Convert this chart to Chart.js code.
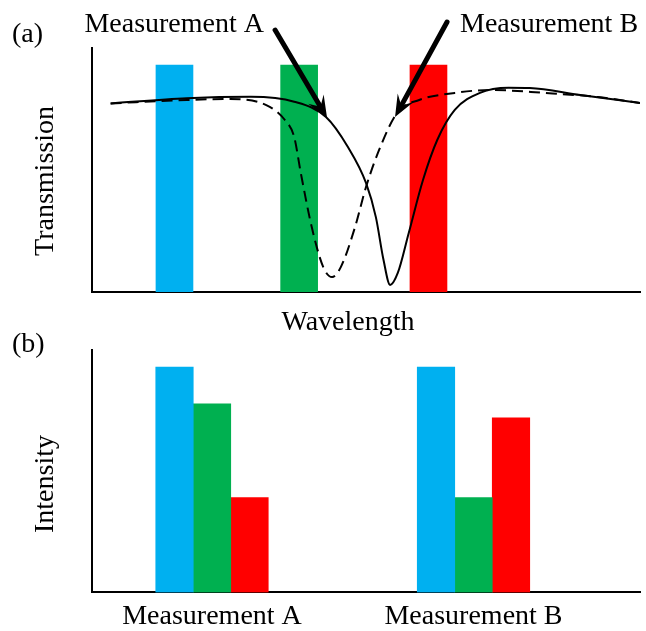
<!DOCTYPE html>
<html>
<head>
<meta charset="utf-8">
<script src="https://cdn.jsdelivr.net/npm/chart.js@4.4.1/dist/chart.umd.min.js"></script>
<style>
  html, body { margin: 0; padding: 0; background: #fff; overflow: hidden; }
  #wrap { position: relative; width: 646px; height: 631px; overflow: hidden; }
  canvas { position: absolute; left: 0; }
  #chartA { top: 0; }
  #chartB { top: 330px; }
</style>
</head>
<body>
<div id="wrap">
  <canvas id="chartA" width="646" height="345"></canvas>
  <canvas id="chartB" width="646" height="310"></canvas>
</div>
<script>
// (a) transmission spectra, wavelength in arbitrary units 0-100
const wavelengthSolid = [3.4, 17.3, 29.0, 36.9, 42.7, 46.7, 50.0, 51.8, 53.2, 54.4, 55.8, 57.8, 60.4, 63.0, 66.2, 70.8, 76.0, 79.9, 89.1, 100];
const transmissionSolid = [0.773, 0.794, 0.800, 0.780, 0.717, 0.594, 0.447, 0.307, 0.131, 0.029, 0.078, 0.242, 0.459, 0.623, 0.746, 0.816, 0.837, 0.836, 0.807, 0.775];
const wavelengthDashed = [3.4, 17.3, 25.2, 31.8, 35.2, 36.9, 38.1, 40.1, 42.2, 43.8, 45.4, 48.0, 50.0, 52.6, 55.8, 59.7, 66.2, 72.8, 82.5, 92.3, 100];
const transmissionDashed = [0.773, 0.787, 0.791, 0.766, 0.705, 0.635, 0.488, 0.266, 0.102, 0.061, 0.102, 0.266, 0.430, 0.594, 0.738, 0.787, 0.816, 0.828, 0.816, 0.799, 0.775];

// colour filter bands
const filterCenters = [15.05, 37.8, 61.4];
const filterHeights = [0.93, 0.93, 0.93];
const filterColors = ['#00b0f0', '#00b050', '#ff0000'];

// (b) measured intensity per filter
const measurements = ['Measurement A', 'Measurement B'];
const blueIntensity = [0.93, 0.93];
const greenIntensity = [0.778, 0.391];
const redIntensity = [0.391, 0.72];

const FONT = '28px "Liberation Serif", "Times New Roman", serif';

const pts = (xs, ys) => xs.map((x, i) => ({ x: x, y: ys[i] }));

function drawArrow(ctx, x0, y0, x1, y1) {
  const ang = Math.atan2(y1 - y0, x1 - x0);
  const headLen = 22, halfW = 9, notch = 13;
  ctx.save();
  ctx.strokeStyle = '#000';
  ctx.fillStyle = '#000';
  ctx.lineWidth = 5;
  ctx.lineCap = 'round';
  ctx.beginPath();
  ctx.moveTo(x0, y0);
  ctx.lineTo(x1 - Math.cos(ang) * notch, y1 - Math.sin(ang) * notch);
  ctx.stroke();
  ctx.translate(x1, y1);
  ctx.rotate(ang);
  ctx.beginPath();
  ctx.moveTo(0, 0);
  ctx.lineTo(-headLen, -halfW);
  ctx.lineTo(-notch, 0);
  ctx.lineTo(-headLen, halfW);
  ctx.closePath();
  ctx.fill();
  ctx.restore();
}

// arrows point to a spot on each curve
const callouts = [
  { text: 'Measurement A', x: 42.9, y: 0.713, dx: -52, dy: -88, tx: 264, ty: 32, align: 'right' },
  { text: 'Measurement B', x: 55.3, y: 0.717, dx: 52, dy: -95, tx: 460, ty: 32, align: 'left' }
];

const panelA = {
  id: 'panelA',
  afterDatasetsDraw(chart) {
    const ctx = chart.ctx;
    const xs = chart.scales.x, ys = chart.scales.y;
    callouts.forEach(c => {
      const px = xs.getPixelForValue(c.x);
      const py = ys.getPixelForValue(c.y);
      drawArrow(ctx, px + c.dx, py + c.dy, px, py);
      ctx.save();
      ctx.font = FONT;
      ctx.fillStyle = '#000';
      ctx.textAlign = c.align;
      ctx.textBaseline = 'alphabetic';
      ctx.fillText(c.text, c.tx, c.ty);
      ctx.restore();
    });
    ctx.save();
    ctx.font = FONT;
    ctx.fillStyle = '#000';
    ctx.textBaseline = 'alphabetic';
    ctx.textAlign = 'left';
    ctx.fillText('(a)', 12, 42);
    ctx.textAlign = 'center';
    ctx.fillText('Wavelength', 348, 330);
    ctx.translate(53, 181);
    ctx.rotate(-Math.PI / 2);
    ctx.fillText('Transmission', 0, 0);
    ctx.restore();
  }
};

const panelB = {
  id: 'panelB',
  afterDraw(chart) {
    const ctx = chart.ctx;
    ctx.save();
    ctx.font = FONT;
    ctx.fillStyle = '#000';
    ctx.textBaseline = 'alphabetic';
    ctx.textAlign = 'left';
    ctx.fillText('(b)', 12, 22);
    ctx.textAlign = 'center';
    ctx.translate(53, 154);
    ctx.rotate(-Math.PI / 2);
    ctx.fillText('Intensity', 0, 0);
    ctx.restore();
  }
};

const axisBorder = { display: true, color: '#000', width: 2 };

new Chart(document.getElementById('chartA'), {
  type: 'bar',
  data: {
    datasets: [
      {
        type: 'line',
        data: pts(wavelengthSolid, transmissionSolid),
        borderColor: '#000',
        borderWidth: 2,
        pointRadius: 0,
        fill: false,
        cubicInterpolationMode: 'monotone'
      },
      {
        type: 'line',
        data: pts(wavelengthDashed, transmissionDashed),
        borderColor: '#000',
        borderWidth: 2,
        borderDash: [11, 6],
        pointRadius: 0,
        fill: false,
        cubicInterpolationMode: 'monotone'
      },
      {
        type: 'bar',
        data: pts(filterCenters, filterHeights),
        backgroundColor: filterColors,
        barThickness: 37,
        grouped: false
      }
    ]
  },
  options: {
    responsive: false,
    animation: false,
    layout: { padding: { left: 92, top: 48, right: 6, bottom: 53 } },
    plugins: { legend: { display: false }, tooltip: { enabled: false } },
    scales: {
      x: {
        type: 'linear', min: 0, max: 100, offset: false,
        grid: { display: false, drawTicks: false, offset: false },
        ticks: { display: false },
        border: axisBorder
      },
      y: {
        min: 0, max: 1,
        grid: { display: false, drawTicks: false },
        ticks: { display: false },
        border: axisBorder
      }
    }
  },
  plugins: [panelA]
});

new Chart(document.getElementById('chartB'), {
  type: 'bar',
  data: {
    datasets: [
      { data: pts([0, 1], blueIntensity), backgroundColor: filterColors[0], barThickness: 37.5 },
      { data: pts([0, 1], greenIntensity), backgroundColor: filterColors[1], barThickness: 37.5 },
      { data: pts([0, 1], redIntensity), backgroundColor: filterColors[2], barThickness: 37.5 }
    ]
  },
  options: {
    responsive: false,
    animation: false,
    layout: { padding: { left: 92, top: 20, right: 6, bottom: 0 } },
    plugins: { legend: { display: false }, tooltip: { enabled: false } },
    scales: {
      x: {
        type: 'linear', min: -0.4589, max: 1.6367, offset: false,
        afterBuildTicks: scale => { scale.ticks = measurements.map((m, i) => ({ value: i })); },
        grid: { display: false, drawTicks: false, offset: false },
        ticks: {
          padding: 7, autoSkip: false, maxRotation: 0, color: '#000',
          font: { family: '"Liberation Serif", "Times New Roman", serif', size: 28 },
          callback: v => measurements[v]
        },
        border: axisBorder
      },
      y: {
        min: 0, max: 1,
        grid: { display: false, drawTicks: false },
        ticks: { display: false },
        border: axisBorder
      }
    }
  },
  plugins: [panelB]
});
</script>
</body>
</html>
